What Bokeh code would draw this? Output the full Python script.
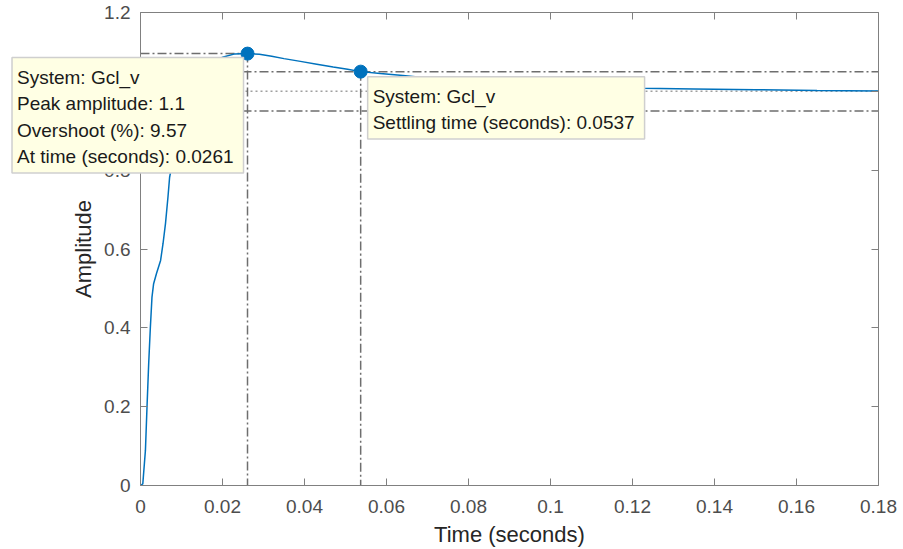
import math

from bokeh.plotting import figure
from bokeh.models import Range1d, LinearAxis, FixedTicker, Label
from bokeh.embed import file_html
from bokeh.resources import INLINE

# Closed-loop step response of Gcl_v (time in seconds, amplitude)
time_s = [0.0, 0.00056, 0.0012, 0.0016, 0.0020, 0.0024, 0.0028, 0.0032, 0.0039,
          0.0049, 0.0055, 0.0061, 0.0067, 0.0071, 0.0075, 0.0085, 0.0095, 0.0105,
          0.012, 0.014, 0.016, 0.018, 0.0202, 0.023, 0.0261, 0.029, 0.032, 0.035,
          0.039, 0.043, 0.047, 0.0505, 0.0537, 0.0585, 0.064, 0.070, 0.080, 0.090,
          0.100, 0.110, 0.1225, 0.135, 0.150, 0.165, 0.180]
amplitude = [0.0, 0.004, 0.089, 0.203, 0.31, 0.40, 0.478, 0.512, 0.538,
             0.571, 0.614, 0.665, 0.732, 0.782, 0.804, 0.87, 0.925, 0.965,
             1.01, 1.045, 1.065, 1.078, 1.087, 1.095, 1.0957, 1.094, 1.089, 1.083,
             1.076, 1.069, 1.062, 1.056, 1.05, 1.045, 1.040, 1.034, 1.026, 1.019,
             1.014, 1.011, 1.008, 1.006, 1.004, 1.002, 1.001]

x_ticks = [0, 0.02, 0.04, 0.06, 0.08, 0.1, 0.12, 0.14, 0.16, 0.18]
x_tick_labels = ["0", "0.02", "0.04", "0.06", "0.08", "0.1", "0.12", "0.14", "0.16", "0.18"]
y_ticks = [0, 0.2, 0.4, 0.6, 0.8, 1.0, 1.2]
y_tick_labels = ["0", "0.2", "0.4", "0.6", "0.8", "1", "1.2"]

# Step response characteristics
system_name = "Gcl_v"
final_value = 1.0
peak_amplitude = 1.0957
peak_time = 0.0261
settling_time = 0.0537
settling_amplitude = 1.05
settling_threshold = 0.05

overshoot_pct = (peak_amplitude - final_value) / final_value * 100

FONT = "Liberation Sans"
BLUE = "#0072bd"
GUIDE = "#6e6e6e"
FRAME = "#808080"

t_min, t_max = x_ticks[0], x_ticks[-1]
a_min, a_max = y_ticks[0], y_ticks[-1]

# Canvas layout: the plotting area fills the whole canvas so that datatips and
# axis texts are never clipped; the axes box is drawn by axes pinned to the
# data limits.
W, H = 903, 549
AXES_L, AXES_R = 140, 878   # canvas x of the axes box edges
AXES_T, AXES_B = 12, 485    # canvas y of the axes box edges
t_per_px = (t_max - t_min) / (AXES_R - AXES_L)
a_per_px = (a_max - a_min) / (AXES_B - AXES_T)
x_lo = t_min - AXES_L * t_per_px
x_hi = t_max + (W - AXES_R) * t_per_px
y_lo = a_min - (H - AXES_B) * a_per_px
y_hi = a_max + AXES_T * a_per_px

p = figure(width=W, height=H, title=None,
           x_range=Range1d(x_lo, x_hi), y_range=Range1d(y_lo, y_hi),
           output_backend="svg", toolbar_location=None,
           min_border=0, min_border_left=0, min_border_right=0,
           min_border_top=0, min_border_bottom=0,
           background_fill_color="white", border_fill_color="white")
p.grid.visible = False
p.outline_line_color = None

# mirror axes on top and right carry ticks only (box on)
p.add_layout(LinearAxis(), "above")
p.add_layout(LinearAxis(), "right")

for ax in p.xaxis:
    ax.ticker = FixedTicker(ticks=x_ticks)
    ax.major_label_overrides = dict(zip(x_ticks, x_tick_labels))
    ax.bounds = (t_min, t_max)
for ax in p.yaxis:
    ax.ticker = FixedTicker(ticks=y_ticks)
    ax.major_label_overrides = dict(zip(y_ticks, y_tick_labels))
    ax.bounds = (a_min, a_max)

p.below[0].fixed_location = a_min
p.above[0].fixed_location = a_max
p.left[0].fixed_location = t_min
p.right[0].fixed_location = t_max

for ax in p.axis:
    ax.axis_line_color = FRAME
    ax.major_tick_line_color = FRAME
    ax.major_tick_in = 7
    ax.major_tick_out = 0
    ax.minor_tick_in = 0
    ax.minor_tick_out = 0
    ax.major_label_text_font = FONT
    ax.major_label_text_font_size = "19px"
    ax.major_label_text_color = "#4d4d4d"

p.above[0].major_label_text_font_size = "0px"
p.right[0].major_label_text_font_size = "0px"
p.above[0].major_label_standoff = 0
p.right[0].major_label_standoff = 0
p.below[0].major_label_standoff = 14
p.left[0].major_label_standoff = 10

# axis titles
title_style = dict(text_font=FONT, text_font_size="22px", text_color="#262626")
p.add_layout(Label(x=(t_min + t_max) / 2, y=a_min, y_offset=-36,
                   anchor="top_center", text="Time (seconds)", **title_style))
p.add_layout(Label(x=t_min, y=(a_min + a_max) / 2, x_offset=-45,
                   angle=math.pi / 2, anchor="bottom_center", text="Amplitude",
                   **title_style))

# settling band and final value guides
band_hi = final_value * (1 + settling_threshold)
band_lo = final_value * (1 - settling_threshold)
p.segment(x0=[t_min, t_min], y0=[band_hi, band_lo], x1=[t_max, t_max], y1=[band_hi, band_lo],
          line_color=GUIDE, line_width=1.5, line_dash="9 3 2 3")
p.segment(x0=[t_min], y0=[final_value], x1=[t_max], y1=[final_value],
          line_color="#a0a0a0", line_width=1.5, line_dash="2 3")

# peak guides
p.segment(x0=[t_min, peak_time], y0=[peak_amplitude, peak_amplitude],
          x1=[peak_time, peak_time], y1=[peak_amplitude, a_min],
          line_color=GUIDE, line_width=1.5, line_dash="9 3 2 3")
# settling time guide
p.segment(x0=[settling_time], y0=[settling_amplitude], x1=[settling_time], y1=[a_min],
          line_color=GUIDE, line_width=1.5, line_dash="9 3 2 3")

# response curve
p.line(time_s, amplitude, line_color=BLUE, line_width=1.5)

# characteristic markers
p.scatter([peak_time, settling_time], [peak_amplitude, settling_amplitude],
          size=13, fill_color=BLUE, line_color=BLUE)

TIP_FILL = "#ffffe4"
TIP_BORDER = "#cfcfcf"

peak_text = "\n".join([
    f"System: {system_name}",
    f"Peak amplitude: {peak_amplitude:.3g}",
    f"Overshoot (%): {overshoot_pct:.3g}",
    f"At time (seconds): {peak_time:.3g}",
])
settle_text = "\n".join([
    f"System: {system_name}",
    f"Settling time (seconds): {settling_time:.3g}",
])

tip_style = dict(text_font=FONT, text_font_size="19px", text_color="#1a1a1a",
                 text_line_height=1.26, level="overlay",
                 background_fill_color=TIP_FILL, border_line_color=TIP_BORDER,
                 border_line_width=1.5,
                 padding=dict(left=5, right=10, top=9, bottom=6))

tip_peak = Label(x=peak_time, y=peak_amplitude, x_offset=-4, y_offset=-4,
                 anchor="top_right", text=peak_text, **tip_style)
tip_settle = Label(x=settling_time, y=settling_amplitude, x_offset=7, y_offset=-5,
                   anchor="top_left", text=settle_text, **tip_style)
p.add_layout(tip_peak)
p.add_layout(tip_settle)

open("out.html", "w").write(file_html(p, INLINE))
